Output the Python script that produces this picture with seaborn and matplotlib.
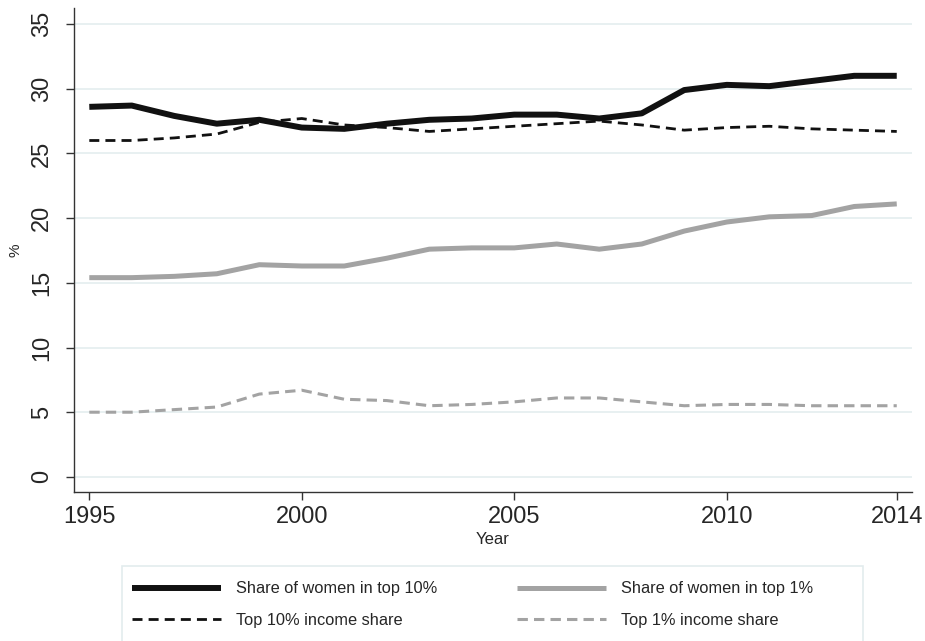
import matplotlib
matplotlib.use("Agg")
import matplotlib.pyplot as plt
from matplotlib.patches import Rectangle
import seaborn as sns
import pandas as pd

years = list(range(1995, 2015))
women_top10 = [28.6, 28.7, 27.9, 27.3, 27.6, 27.0, 26.9, 27.3, 27.6, 27.7,
               28.0, 28.0, 27.7, 28.1, 29.9, 30.3, 30.2, 30.6, 31.0, 31.0]
women_top1 = [15.4, 15.4, 15.5, 15.7, 16.4, 16.3, 16.3, 16.9, 17.6, 17.7,
              17.7, 18.0, 17.6, 18.0, 19.0, 19.7, 20.1, 20.2, 20.9, 21.1]
income_top10 = [26.0, 26.0, 26.2, 26.5, 27.4, 27.7, 27.2, 27.0, 26.7, 26.9,
                27.1, 27.3, 27.5, 27.2, 26.8, 27.0, 27.1, 26.9, 26.8, 26.7]
income_top1 = [5.0, 5.0, 5.2, 5.4, 6.4, 6.7, 6.0, 5.9, 5.5, 5.6,
               5.8, 6.1, 6.1, 5.8, 5.5, 5.6, 5.6, 5.5, 5.5, 5.5]

labels = ["Share of women in top 10%", "Share of women in top 1%",
          "Top 10% income share", "Top 1% income share"]
x_ticks = [1995, 2000, 2005, 2010, 2014]
y_ticks = [0, 5, 10, 15, 20, 25, 30, 35]

sns.set_style("ticks")
plt.rcParams["font.family"] = ["Liberation Sans", "DejaVu Sans"]

df = pd.DataFrame({"Year": years, "w10": women_top10, "w1": women_top1,
                   "i10": income_top10, "i1": income_top1})

fig = plt.figure(figsize=(9.25, 6.41), dpi=100)
ax = fig.add_axes([0.080, 0.2324, 0.906, 0.7551])

grid_col = "#e8f0f1"
for y in y_ticks:
    ax.axhline(y, color=grid_col, lw=1.4, zorder=0)

black = "#111111"
grey = "#a3a3a3"
sns.lineplot(data=df, x="Year", y="w10", ax=ax, color=black, lw=4.3,
             solid_capstyle="butt", zorder=3)
sns.lineplot(data=df, x="Year", y="w1", ax=ax, color=grey, lw=3.6,
             solid_capstyle="butt", zorder=3)
sns.lineplot(data=df, x="Year", y="i10", ax=ax, color=black, lw=2.0,
             linestyle=(0, (3.6, 2.2)), zorder=3)
sns.lineplot(data=df, x="Year", y="i1", ax=ax, color=grey, lw=2.2,
             linestyle=(0, (3.4, 2.0)), zorder=3)

ax.set_xlim(1994.64, 2014.36)
ax.set_ylim(-1.17, 36.24)
ax.set_xticks(x_ticks)
ax.set_yticks(y_ticks)
ax.set_xticklabels([str(v) for v in x_ticks], fontsize=17)
ax.set_yticklabels([str(v) for v in y_ticks], fontsize=17, rotation=90,
                   va="center",
                   family=["Liberation Sans Narrow", "Liberation Sans"])
ax.tick_params(axis="both", length=6, width=1, color="#333333")
ax.tick_params(axis="x", pad=4)
ax.tick_params(axis="y", pad=9)
ax.set_xlabel("Year", fontsize=12, labelpad=3)
ax.set_ylabel("%", fontsize=11, labelpad=6)
for side in ("top", "right"):
    ax.spines[side].set_visible(False)
for side in ("left", "bottom"):
    ax.spines[side].set_color("#333333")
    ax.spines[side].set_linewidth(1.0)

# legend frame runs past the lower edge of the figure
fig.patches.append(Rectangle((0.1319, -0.02), 0.801, 0.137,
                             transform=fig.transFigure, fill=False,
                             edgecolor="#e3ecee", linewidth=1.2))

lines = ax.get_lines()[len(y_ticks):]
handles = [lines[0], lines[2], lines[1], lines[3]]
leg_labels = [labels[0], labels[2], labels[1], labels[3]]
fig.legend(handles, leg_labels, ncol=2, loc="upper left",
           bbox_to_anchor=(0.1338, 0.106), fontsize=11.8,
           frameon=False, handlelength=5.43, handletextpad=0.91,
           columnspacing=4.9, labelspacing=1.0,
           borderpad=0.5, borderaxespad=0)

fig.savefig("out.png", dpi=100)
